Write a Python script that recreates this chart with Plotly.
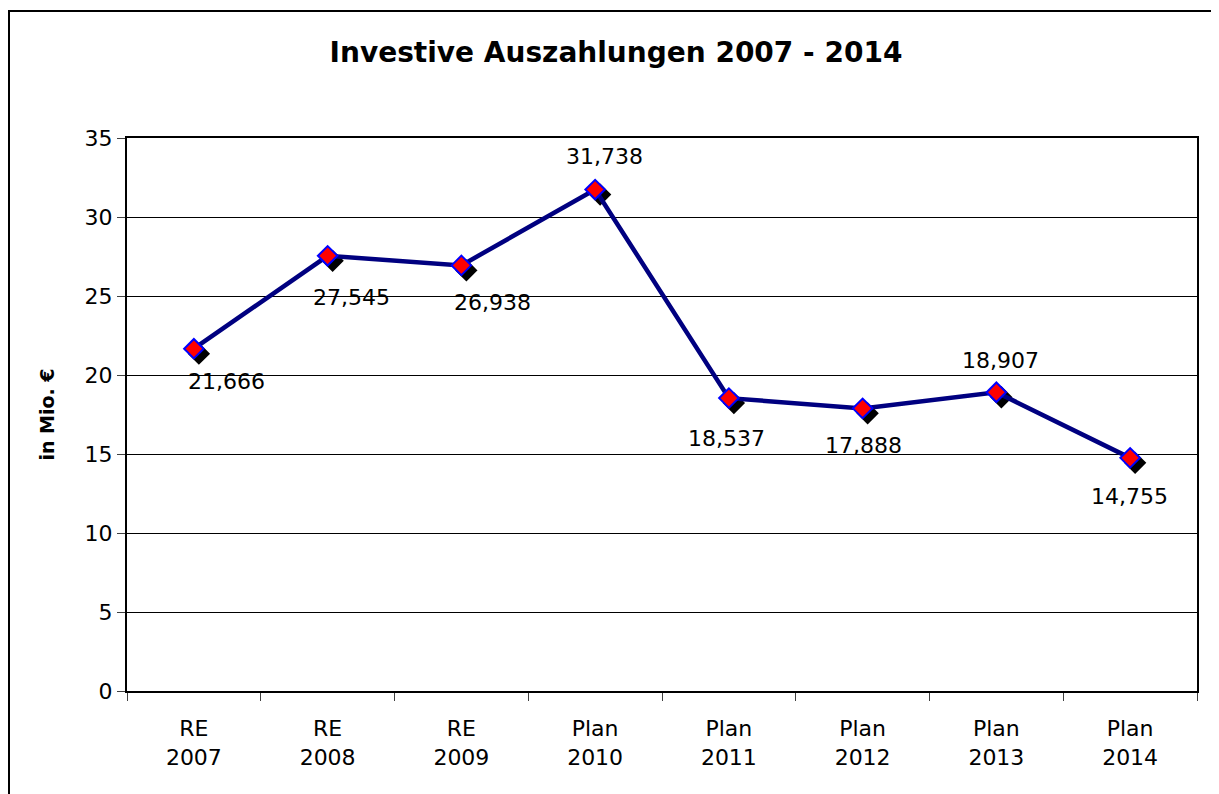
import plotly.graph_objects as go

categories = ["RE 2007", "RE 2008", "RE 2009", "Plan 2010", "Plan 2011", "Plan 2012", "Plan 2013", "Plan 2014"]
values = [21.666, 27.545, 26.938, 31.738, 18.537, 17.888, 18.907, 14.755]
y_ticks = [0, 5, 10, 15, 20, 25, 30, 35]
tick_labels = [c.replace(" ", "<br>") for c in categories]

# label offsets (pixels) - styling only
label_dx = [33, 24, 31, 9, -2, 1, 4, -1]
label_dy = [-33, -42, -37, 33, -40, -37, 32, -39]

W, H = 1219, 794
OFF = 8  # page body margin
L, R, T, B = 127 - OFF, 1197 - OFF, 138 - OFF, 691 - OFF
pw, ph = R - L, B - T
n = len(categories)
xs = list(range(n))

FONT = "DejaVu Sans"
fig = go.Figure()

# invisible trace so the base axes (grid, ticks, labels) are drawn
fig.add_trace(go.Scatter(x=xs, y=values, mode="none", hoverinfo="skip", showlegend=False))

# shadow markers on shifted overlay axes (5px right, 5px down)
sx = 5 / (pw / n)
sy = 5 * 35 / ph
fig.add_trace(go.Scatter(
    x=xs, y=values, mode="markers",
    marker=dict(symbol="diamond", size=15, color="black", line=dict(color="black", width=2)),
    xaxis="x2", yaxis="y2", hoverinfo="skip", showlegend=False))

fig.add_trace(go.Scatter(
    x=xs, y=values, mode="lines+markers",
    line=dict(color="#000080", width=4.5),
    marker=dict(symbol="diamond", size=15, color="#FF0000", line=dict(color="#0000FF", width=2)),
    xaxis="x3", yaxis="y3", showlegend=False))

labels = [f"{v:.3f}".replace(".", ",") for v in values]
for i, (v, t) in enumerate(zip(values, labels)):
    fig.add_annotation(x=i, y=v, xref="x3", yref="y3", text=t, showarrow=False,
                       xshift=label_dx[i], yshift=label_dy[i],
                       font=dict(family=FONT, size=22, color="black"))

# outer chart frame
fig.add_shape(type="rect", xref="paper", yref="paper",
              x0=(1 - L) / pw, x1=(1240 - L) / pw,
              y0=(B - 820) / ph, y1=1 + (T - 3) / ph,
              line=dict(color="black", width=2), layer="below")

fig.update_layout(
    width=W, height=H,
    margin=dict(l=L, r=W - R, t=T, b=H - B, pad=0),
    paper_bgcolor="white", plot_bgcolor="white",
    title=dict(text="<b>Investive Auszahlungen 2007 - 2014</b>", x=(616 - OFF) / W, xanchor="center",
               y=1 - (52 - OFF) / H, yanchor="middle",
               font=dict(family=FONT, size=28, color="black")),
    xaxis=dict(range=[-0.5, n - 0.5], tickmode="array",
               tickvals=xs, ticktext=tick_labels,
               showgrid=False, zeroline=False,
               showline=True, linecolor="black", linewidth=2, mirror=True,
               ticks="", ticklabelstandoff=17,
               minor=dict(tick0=0.5, dtick=1, ticks="outside", ticklen=8, tickcolor="#404040", showgrid=False),
               tickfont=dict(family=FONT, size=22, color="black")),
    xaxis2=dict(range=[-0.5 - sx, n - 0.5 - sx], overlaying="x", visible=False),
    xaxis3=dict(range=[-0.5, n - 0.5], overlaying="x", visible=False),
    yaxis=dict(range=[0, 35], tickvals=y_ticks, showgrid=True, gridcolor="black", gridwidth=1,
               zeroline=False, showline=True, linecolor="black", linewidth=2, mirror=True,
               ticks="outside", ticklen=8, tickcolor="#404040",
               tickfont=dict(family=FONT, size=22, color="black"),
               title=dict(text="<b>in Mio. €</b>", font=dict(family=FONT, size=19, color="black"), standoff=25)),
    yaxis2=dict(range=[sy, 35 + sy], overlaying="y", visible=False),
    yaxis3=dict(range=[0, 35], overlaying="y", visible=False),
)

fig.write_html("out.html")
